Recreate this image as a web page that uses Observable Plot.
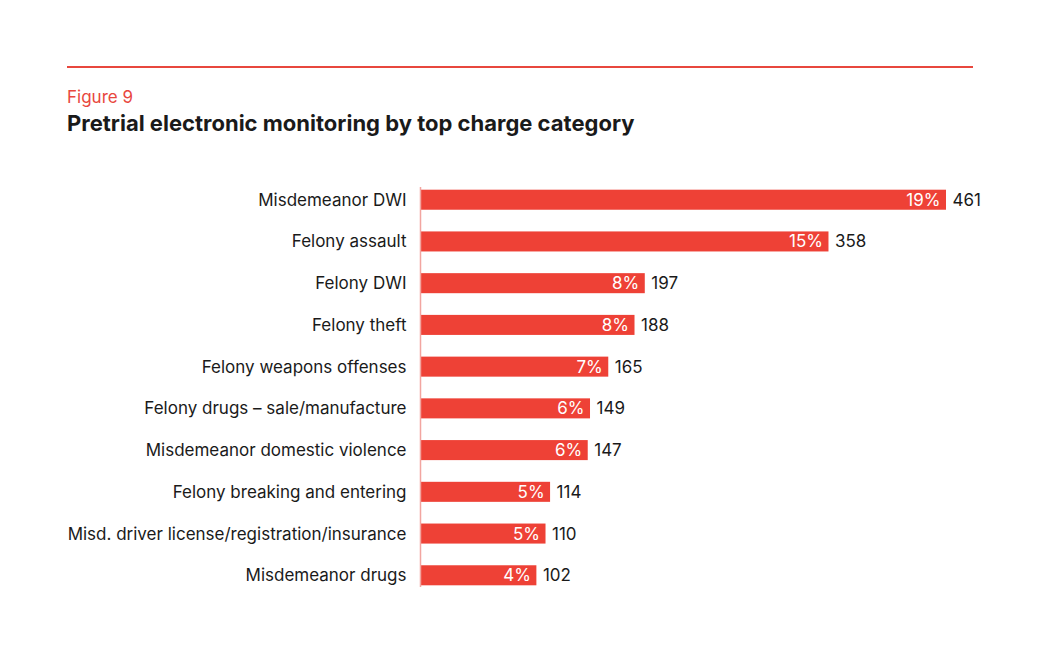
<!DOCTYPE html>
<html>
<head>
<meta charset="utf-8">
<script src="https://cdn.jsdelivr.net/npm/d3@7"></script>
<script src="https://cdn.jsdelivr.net/npm/@observablehq/plot@0.6"></script>
<style>
  body { margin: 0; background: #fff; font-family: Inter, "Noto Sans", sans-serif; }
  #wrap { position: relative; width: 1038px; height: 652px; }
  #topline { position: absolute; left: 67px; top: 66px; width: 906px; height: 2px; background: #e8473e; }
  #fig { position: absolute; left: 67px; top: 87px; font-size: 17px; color: #e8473e; }
  #title { position: absolute; left: 67px; top: 110px; font-size: 22px; font-weight: 700; color: #1a1a1a; }
  #chart { position: absolute; left: 0; top: 150px; }
</style>
</head>
<body>
<div id="wrap">
  <div id="topline"></div>
  <div id="fig">Figure 9</div>
  <div id="title">Pretrial electronic monitoring by top charge category</div>
  <div id="chart"></div>
</div>
<script>
const categories = [
  "Misdemeanor DWI",
  "Felony assault",
  "Felony DWI",
  "Felony theft",
  "Felony weapons offenses",
  "Felony drugs – sale/manufacture",
  "Misdemeanor domestic violence",
  "Felony breaking and entering",
  "Misd. driver license/registration/insurance",
  "Misdemeanor drugs"
];
const counts = [461, 358, 197, 188, 165, 149, 147, 114, 110, 102];
const percents = [19, 15, 8, 8, 7, 6, 6, 5, 5, 4];

const data = categories.map((c, i) => ({category: c, count: counts[i], pct: percents[i]}));
const red = "#ee4136";

const chart = Plot.plot({
  width: 1038,
  height: 477,
  marginLeft: 420,
  marginRight: 92,
  marginTop: 18,
  marginBottom: 20,
  style: {fontFamily: "Inter, 'Noto Sans', sans-serif", fontSize: "17px", color: "#1a1a1a"},
  x: {domain: [0, 461], nice: false, axis: null},
  y: {domain: categories, padding: 0.52, round: false, label: null, axis: null},
  marks: [
    Plot.barX(data, {y: "category", x: "count", fill: red}),
    Plot.ruleX([0], {stroke: "#f2a5a0", strokeWidth: 1.5, insetTop: 19, insetBottom: 20}),
    Plot.text(data, {y: "category", x: "count", text: d => d.pct + "%", textAnchor: "end", dx: -6, fill: "white", fontSize: 17}),
    Plot.text(data, {y: "category", x: "count", text: d => String(d.count), textAnchor: "start", dx: 6, fill: "#1a1a1a", fontSize: 17}),
    Plot.axisY({tickSize: 0, tickPadding: 14, fontSize: 17, label: null})
  ]
});
document.getElementById("chart").appendChild(chart);
</script>
</body>
</html>
